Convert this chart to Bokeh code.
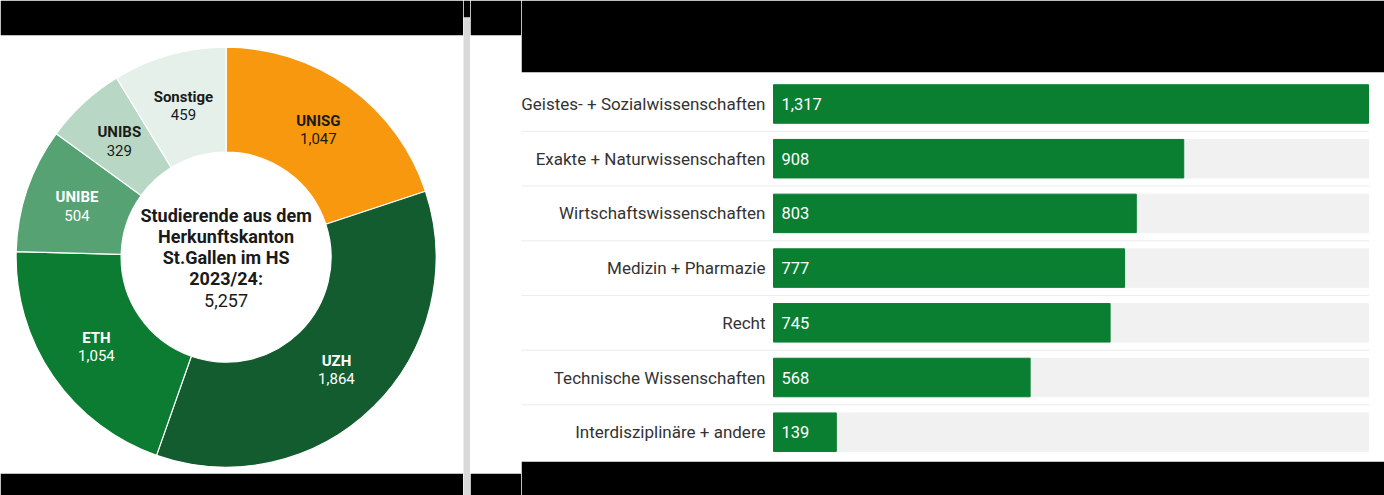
import math
from bokeh.plotting import figure
from bokeh.layouts import row
from bokeh.models import Range1d, ColumnDataSource
from bokeh.core.properties import value
from bokeh.embed import file_html
from bokeh.resources import INLINE

# ---------------- data ----------------
uni_names = ["UNISG", "UZH", "ETH", "UNIBE", "UNIBS", "Sonstige"]
uni_values = [1047, 1864, 1054, 504, 329, 459]
uni_colors = ["#f7980f", "#135c30", "#0b7c31", "#56a272", "#b8d8c5", "#e5f0ea"]
uni_text_colors = ["#1a1a1a", "#ffffff", "#ffffff", "#ffffff", "#1a1a1a", "#1a1a1a"]
center_lines = ["Studierende aus dem", "Herkunftskanton", "St.Gallen im HS", "2023/24:"]

fields = ["Geistes- + Sozialwissenschaften", "Exakte + Naturwissenschaften",
          "Wirtschaftswissenschaften", "Medizin + Pharmazie", "Recht",
          "Technische Wissenschaften", "Interdisziplinäre + andere"]
field_values = [1317, 908, 803, 777, 745, 568, 139]

FONT = "Roboto"
H = 495
BLACK = "#000000"


def base_fig(w, top, bottom, bg):
    f = figure(width=w, height=H, output_backend="svg", toolbar_location=None,
               min_border_left=0, min_border_right=0,
               min_border_top=top, min_border_bottom=bottom,
               background_fill_color=bg, border_fill_color=BLACK,
               outline_line_color=None, frame_align=False)
    f.axis.visible = False
    f.grid.visible = False
    return f


# ---------------- donut ----------------
dw = 463
d_top, d_bottom = 35, 22
d_ph = H - d_top - d_bottom
cx, cy = 225.6, 221.7          # donut centre inside plot area (px)
pd = base_fig(dw, d_top, d_bottom, "#ffffff")
pd.x_range = Range1d(-cx, dw - cx)
pd.y_range = Range1d(-(d_ph - cy), cy)

total = sum(uni_values)
starts, ends, mids = [], [], []
cum = 0
for v in uni_values:
    a0 = math.pi / 2 - 2 * math.pi * cum / total
    cum += v
    a1 = math.pi / 2 - 2 * math.pi * cum / total
    starts.append(a1)
    ends.append(a0)
    mids.append((a0 + a1) / 2)

r_in, r_out = 105, 210
r_lab = (r_in + r_out) / 2
src = ColumnDataSource(dict(
    start=starts, end=ends, color=uni_colors, name=uni_names,
    val=[f"{v:,}" for v in uni_values], tcol=uni_text_colors,
    lx=[r_lab * math.cos(m) for m in mids],
    ly=[r_lab * math.sin(m) for m in mids],
))
pd.annular_wedge(x=0, y=0, inner_radius=r_in, outer_radius=r_out,
                 start_angle="start", end_angle="end", color="color",
                 line_color="#ffffff", line_width=1.2, source=src)
pd.text(x="lx", y="ly", text="name", text_color="tcol", y_offset=-9,
        text_align="center", text_baseline="middle",
        text_font=value(FONT), text_font_size="15px", text_font_style="bold",
        source=src)
pd.text(x="lx", y="ly", text="val", text_color="tcol", y_offset=9,
        text_align="center", text_baseline="middle",
        text_font=value(FONT), text_font_size="15px", source=src)

n = len(center_lines)
csrc = ColumnDataSource(dict(
    x=[0] * n, y=[0] * n, t=center_lines,
    off=[-42 + 21 * i for i in range(n)],
))
pd.text(x="x", y="y", text="t", y_offset="off", text_align="center",
        text_baseline="middle", text_color="#1a1a1a",
        text_font=value(FONT), text_font_size="18px", text_font_style="bold",
        source=csrc)
pd.text(x=[0], y=[0], text=[f"{total:,}"], y_offset=43, text_align="center",
        text_baseline="middle", text_color="#1a1a1a",
        text_font=value(FONT), text_font_size="18px")

# ---------------- divider + white strip ----------------
pline = base_fig(7, 17, 0, "#d9d9d9")
pline.x_range = Range1d(0, 1)
pline.y_range = Range1d(0, 1)
pmid = base_fig(51, d_top, d_bottom, "#ffffff")
pmid.x_range = Range1d(0, 1)
pmid.y_range = Range1d(0, 1)

# ---------------- bars ----------------
bw = 863
b_top, b_bottom = 72, 34
b_ph = H - b_top - b_bottom
bar_left_px = 252
bar_full_px = 595
vmax = max(field_values)
u = vmax / bar_full_px
pitch = 54.7
first_c = 31.5
pb = base_fig(bw, b_top, b_bottom, "#ffffff")
pb.x_range = Range1d(-bar_left_px * u, (bw - bar_left_px) * u)
pb.y_range = Range1d((b_ph - first_c) / pitch, -first_c / pitch)

idx = list(range(len(fields)))
bsrc = ColumnDataSource(dict(
    y=idx, v=field_values, cat=fields,
    lab=[f"{v:,}" for v in field_values], full=[vmax] * len(fields),
))
pb.hbar(y="y", left=0, right="full", height=0.704, color="#f1f1f1", source=bsrc)
pb.hbar(y="y", left=0, right="v", height=0.704, color="#0a7f32", source=bsrc)
sep_y = [i + 0.5 for i in idx[:-1]]
pb.segment(x0=[-bar_left_px * u] * len(sep_y), x1=[vmax] * len(sep_y),
           y0=sep_y, y1=sep_y, line_color="#d6d6d6", line_width=1,
           line_dash="1 1")
pb.text(x=0, y="y", text="cat", x_offset=-8, text_align="right",
        text_baseline="middle", text_color="#333333",
        text_font=value(FONT), text_font_size="17px", source=bsrc)
pb.text(x=0, y="y", text="lab", x_offset=8, text_align="left",
        text_baseline="middle", text_color="#ffffff",
        text_font=value(FONT), text_font_size="16.5px", source=bsrc)

layout = row(pd, pline, pmid, pb, spacing=0)
open("out.html", "w").write(file_html(layout, INLINE))
